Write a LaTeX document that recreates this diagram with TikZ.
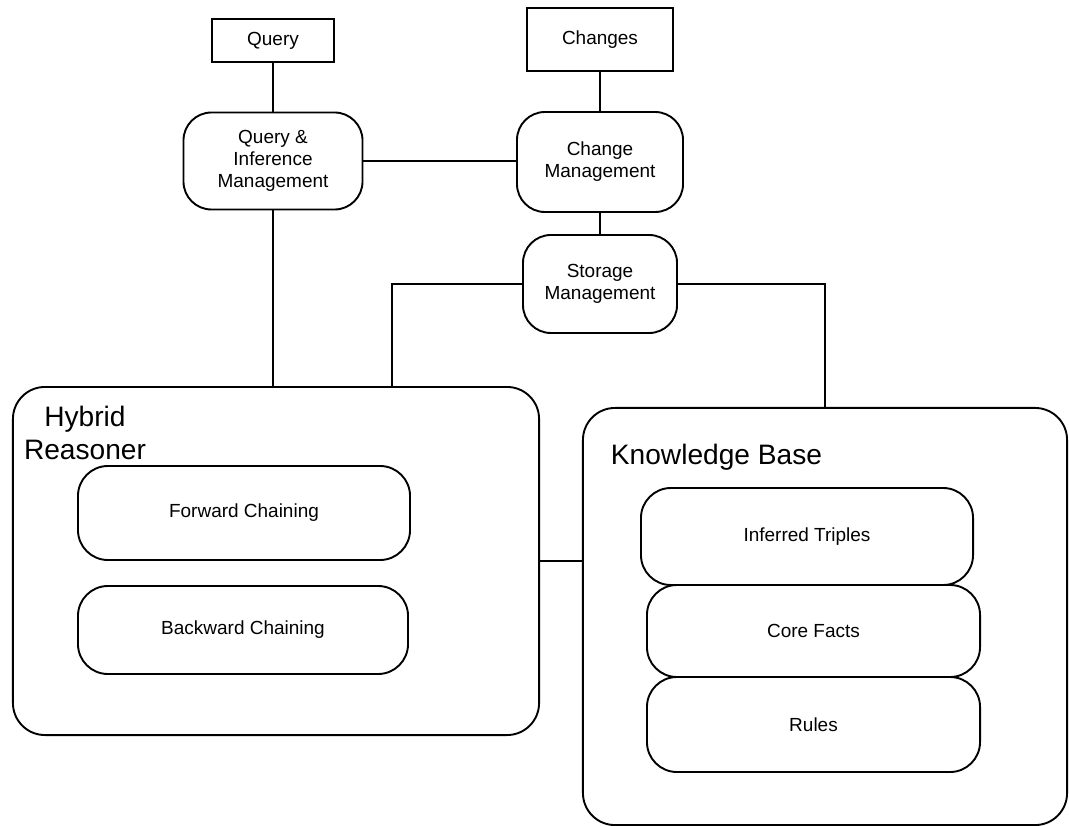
\documentclass[tikz,border=0pt]{standalone}
\usepackage{fontspec}
\setmainfont{Liberation Sans}
\usepackage{tikz}
\usetikzlibrary{positioning,calc}

\newcommand{\boxfont}{\fontsize{13.5}{15.6}\selectfont}
\newcommand{\titlefont}{\fontsize{20}{23}\selectfont}

\begin{document}
\begin{tikzpicture}[x=0.025cm, y=-0.025cm, line width=1.35pt,
    tag/.style={draw, rectangle, inner sep=0pt, font=\boxfont},
    mgmt/.style={draw, rectangle, rounded corners=0.7cm, inner sep=0pt, align=center, font=\boxfont},
    module/.style={draw, rectangle, rounded corners=0.8cm, inner sep=0pt},
    part/.style={draw, rectangle, rounded corners=0.75cm, inner sep=0pt, font=\boxfont},
    title/.style={inner sep=0pt, font=\titlefont}]
    \useasboundingbox (0,0) rectangle (1069,826);

    % Inputs
    \node[tag, minimum width=3.05cm, minimum height=1.075cm] (query) at (273,40.5) {Query};
    \node[tag, minimum width=3.65cm, minimum height=1.575cm] (changes) at (600,39.5) {Changes};

    % Managers
    \node[mgmt, minimum width=4.475cm, minimum height=2.425cm] (qim) at (273,161) {Query \&\\Inference\\Management};
    \node[mgmt, minimum width=4.15cm, minimum height=2.5cm] (cm) at (600,162) {Change\\Management};
    \node[mgmt, minimum width=3.85cm, minimum height=2.45cm] (sm) at (600,284) {Storage\\Management};

    % Hybrid Reasoner
    \node[module, minimum width=13.15cm, minimum height=8.7cm] (hr) at (276,561) {};
    \node[title, align=center] (hrtitle) at (85,433) {Hybrid\\Reasoner};
    \node[part, minimum width=8.3cm, minimum height=2.35cm] (fwd) at (244,513) {Forward Chaining};
    \node[part, minimum width=8.25cm, minimum height=2.2cm] (bwd) at (243,630) {Backward Chaining};

    % Knowledge Base
    \node[module, minimum width=12.1cm, minimum height=10.425cm] (kb) at (825,616.5) {};
    \node[title, anchor=base west] (kbtitle) at (610,464) {Knowledge Base};
    \node[part, minimum width=8.3cm, minimum height=2.425cm] (inf) at (807,536.5) {Inferred Triples};
    \node[part, minimum width=8.325cm, minimum height=2.3cm] (core) at (813.5,631) {Core Facts};
    \node[part, minimum width=8.325cm, minimum height=2.375cm] (rules) at (813.5,724.5) {Rules};

    % Links
    \draw (query.south) -- (qim.north);
    \draw (changes.south) -- (cm.north);
    \draw (qim.east) -- (qim.east -| cm.west);
    \draw (cm.south) -- (sm.north);
    \draw (qim.south) -- (qim.south |- hr.north);
    \coordinate (hrtap) at ($(hr.north west)!0.72!(hr.north east)$);
    \draw (sm.west) -| (hrtap);
    \draw (sm.east) -| (kb.north);
    \draw (hr.east) -- (hr.east -| kb.west);
\end{tikzpicture}
\end{document}
